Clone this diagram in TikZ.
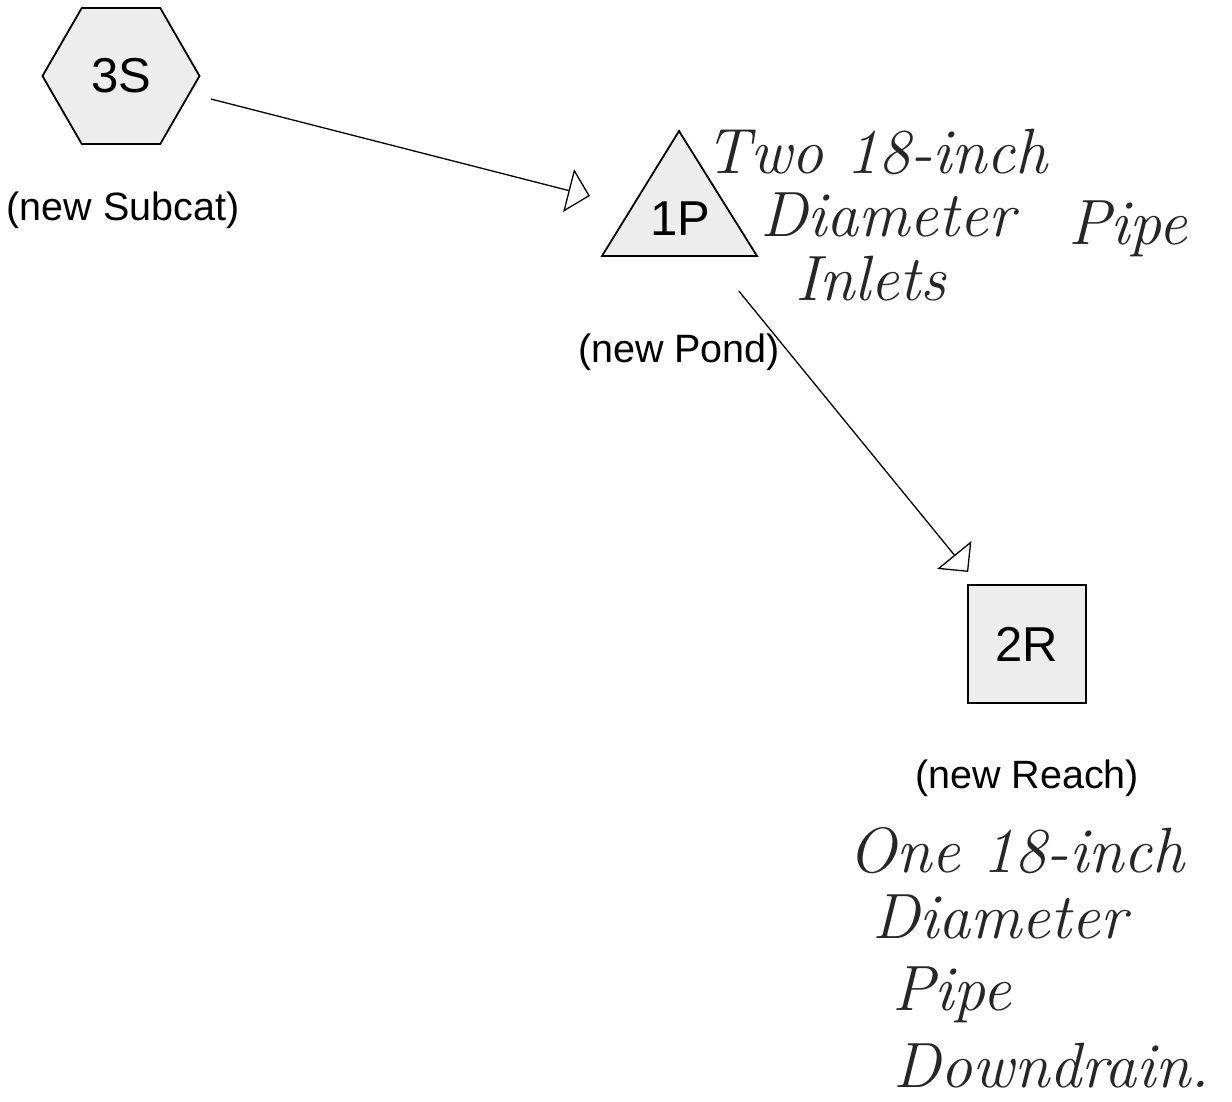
\documentclass[tikz,border=0pt]{standalone}
\usepackage{fontspec}
\setmainfont{Liberation Sans}
\newfontfamily\handfont{Latin Modern Roman}
\usetikzlibrary{shapes.geometric,arrows.meta}
\begin{document}
\begin{tikzpicture}[x=1pt,y=-1pt,
  shapefill/.style={fill=gray!14,draw=black,line width=1.8pt},
  idtext/.style={font=\fontsize{49}{52}\selectfont,inner sep=0pt},
  captext/.style={font=\fontsize{39.5}{42}\selectfont,inner sep=0pt},
  handtext/.style={font=\handfont\itshape\fontsize{64}{66}\selectfont,anchor=base west,inner sep=0pt,text=black!85},
  flow/.style={line width=1.3pt,shorten <=93pt,shorten >=93pt,
    -{Triangle[open,length=22pt,width=44pt,line width=1.3pt]}}]
\useasboundingbox (0,0) rectangle (1232,1101);
% nodes
\node[regular polygon,regular polygon sides=6,minimum size=157pt,inner sep=0pt,shapefill] (s3shape) at (121,76) {};
\node[idtext] (s3) at (121,76) {3S};
\fill[gray!14] (679,131) -- (602,256) -- (757,256) -- cycle;
\draw[line width=1.8pt,line join=miter] (679,131) -- (602,256) -- (757,256) -- cycle;
\node[idtext] (p1) at (680,219) {1P};
\node[rectangle,minimum width=118pt,minimum height=118pt,inner sep=0pt,shapefill] (r2shape) at (1027,644) {};
\node[idtext] (r2) at (1027,644) {2R};
% captions
\node[captext] (c3) at (123,210) {(new Subcat)};
\node[captext] (c1) at (679,352) {(new Pond)};
\node[captext] (c2) at (1027,778) {(new Reach)};
% connectors
\draw[flow] (s3.center) -- (p1.center);
\draw[flow] (p1.center) -- (r2.center);
% handwritten notes
\node[handtext] (h1) at (705,173) {Two 18-inch};
\node[handtext] (h2) at (760,236) {Diameter};
\node[handtext] (h2b) at (1068,244) {Pipe};
\node[handtext] (h3) at (795,300) {Inlets};
\node[handtext] (h4) at (848,872) {One 18-inch};
\node[handtext] (h5) at (872,938) {Diameter};
\node[handtext] (h6) at (892,1010) {Pipe};
\node[handtext] (h7) at (893,1087) {Downdrain.};
\end{tikzpicture}
\end{document}
